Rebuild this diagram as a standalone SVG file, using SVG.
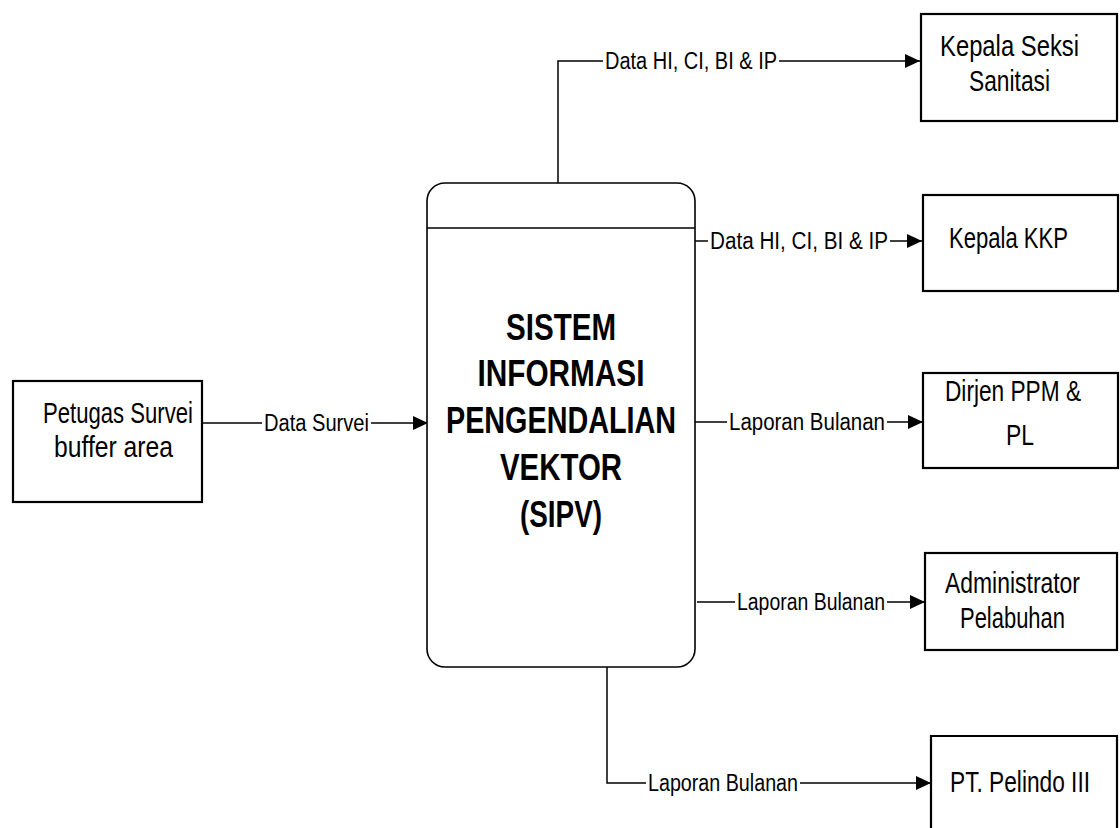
<svg xmlns="http://www.w3.org/2000/svg" width="1120" height="828" viewBox="0 0 1120 828">
<defs>
<style>
.box{fill:#fff;stroke:#000;stroke-width:2.2}
.main{fill:#fff;stroke:#000;stroke-width:1.6}
.ln{fill:none;stroke:#000;stroke-width:1.5}
.nt{font-family:"Liberation Sans",Arial,sans-serif;font-size:29px;fill:#000}
.lb{font-family:"Liberation Sans",Arial,sans-serif;font-size:23px;fill:#000}
.tt{font-family:"Liberation Sans",Arial,sans-serif;font-size:36px;font-weight:bold;fill:#000;text-anchor:middle}
</style>
<marker id="ah" markerUnits="userSpaceOnUse" markerWidth="16" markerHeight="14" refX="15" refY="7" orient="auto">
<path d="M0,0 L15,7 L0,14 Z" fill="#000"/>
</marker>
</defs>
<rect width="1120" height="828" fill="#fff"/>

<g id="connectors">
<path class="ln" d="M558,183 V61 H603"/>
<path class="ln" d="M779,61 H920" marker-end="url(#ah)"/>
<text class="lb" x="605" y="69" textLength="172" lengthAdjust="spacingAndGlyphs">Data HI, CI, BI &amp; IP</text>

<path class="ln" d="M695,241 H708"/>
<path class="ln" d="M890,241 H922" marker-end="url(#ah)"/>
<text class="lb" x="710" y="249" textLength="178" lengthAdjust="spacingAndGlyphs">Data HI, CI, BI &amp; IP</text>

<path class="ln" d="M695,422 H727"/>
<path class="ln" d="M887,422 H923" marker-end="url(#ah)"/>
<text class="lb" x="729" y="430" textLength="156" lengthAdjust="spacingAndGlyphs">Laporan Bulanan</text>

<path class="ln" d="M697,602 H735"/>
<path class="ln" d="M887,602 H925" marker-end="url(#ah)"/>
<text class="lb" x="737" y="610" textLength="148" lengthAdjust="spacingAndGlyphs">Laporan Bulanan</text>

<path class="ln" d="M607,667 V783 H646"/>
<path class="ln" d="M800,783 H931" marker-end="url(#ah)"/>
<text class="lb" x="648" y="791" textLength="150" lengthAdjust="spacingAndGlyphs">Laporan Bulanan</text>

<path class="ln" d="M202,423 H262"/>
<path class="ln" d="M371,423 H428" marker-end="url(#ah)"/>
<text class="lb" x="264" y="431" textLength="105" lengthAdjust="spacingAndGlyphs">Data Survei</text>
</g>

<g id="sipv">
<rect class="main" x="427" y="183" width="268" height="484" rx="18"/>
<line class="main" x1="427" y1="228" x2="695" y2="228"/>
<text class="tt" x="561" y="340" textLength="110" lengthAdjust="spacingAndGlyphs">SISTEM</text>
<text class="tt" x="561" y="386" textLength="167" lengthAdjust="spacingAndGlyphs">INFORMASI</text>
<text class="tt" x="561" y="433" textLength="230" lengthAdjust="spacingAndGlyphs">PENGENDALIAN</text>
<text class="tt" x="561" y="480" textLength="122" lengthAdjust="spacingAndGlyphs">VEKTOR</text>
<text class="tt" x="561" y="527" textLength="82" lengthAdjust="spacingAndGlyphs">(SIPV)</text>
</g>

<g id="petugas">
<rect class="box" x="13" y="381" width="189" height="121"/>
<text class="nt" x="43" y="423" textLength="150" lengthAdjust="spacingAndGlyphs">Petugas Survei</text>
<text class="nt" x="54" y="457" textLength="119" lengthAdjust="spacingAndGlyphs">buffer area</text>
</g>

<g id="kepala-seksi">
<rect class="box" x="921" y="14" width="196" height="107"/>
<text class="nt" x="940" y="56" textLength="139" lengthAdjust="spacingAndGlyphs">Kepala Seksi</text>
<text class="nt" x="969" y="91" textLength="81" lengthAdjust="spacingAndGlyphs">Sanitasi</text>
</g>

<g id="kepala-kkp">
<rect class="box" x="923" y="195" width="195" height="96"/>
<text class="nt" x="949" y="248" textLength="119" lengthAdjust="spacingAndGlyphs">Kepala KKP</text>
</g>

<g id="dirjen">
<rect class="box" x="923" y="373" width="195" height="95"/>
<text class="nt" x="945" y="401" textLength="136" lengthAdjust="spacingAndGlyphs">Dirjen PPM &amp;</text>
<text class="nt" x="1006" y="445" textLength="28" lengthAdjust="spacingAndGlyphs">PL</text>
</g>

<g id="administrator">
<rect class="box" x="925" y="553" width="192" height="97"/>
<text class="nt" x="945" y="593" textLength="135" lengthAdjust="spacingAndGlyphs">Administrator</text>
<text class="nt" x="960" y="628" textLength="105" lengthAdjust="spacingAndGlyphs">Pelabuhan</text>
</g>

<g id="pelindo">
<path class="box" d="M931,828 V736 H1117 V828"/>
<text class="nt" x="950" y="792" textLength="140" lengthAdjust="spacingAndGlyphs">PT. Pelindo III</text>
</g>
</svg>
